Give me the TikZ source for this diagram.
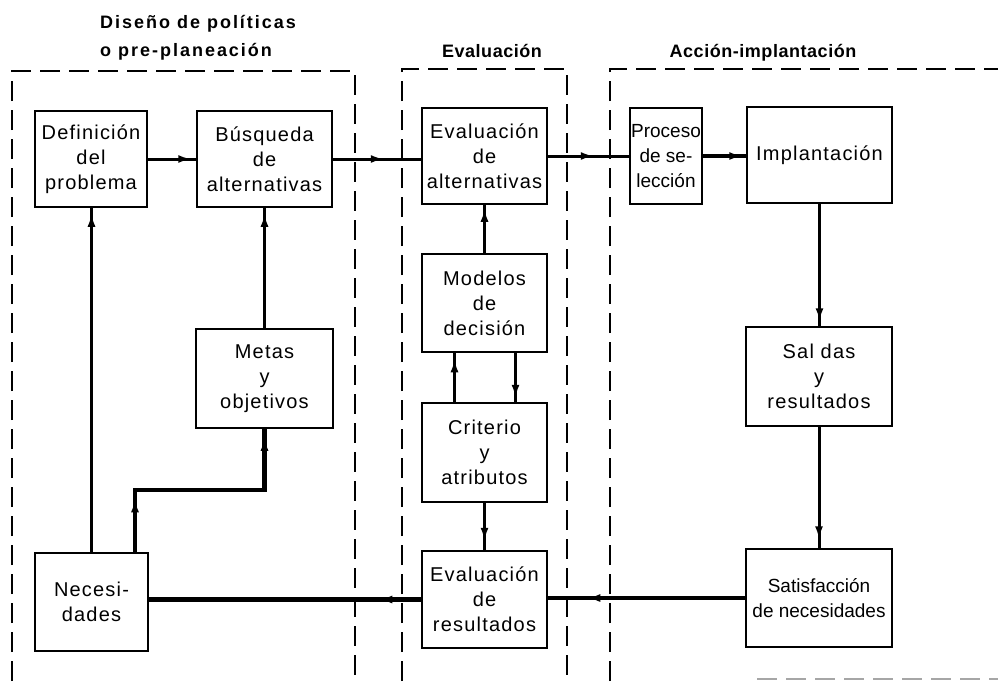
\documentclass[tikz,border=0pt]{standalone}
\usepackage{fontspec}
\setmainfont{Liberation Sans}
\newfontfamily\boxfont{Liberation Sans}[LetterSpace=6]
\newfontfamily\headwide{Liberation Sans}[LetterSpace=11]
\newfontfamily\headfont{Liberation Sans}[LetterSpace=3]
\usetikzlibrary{arrows.meta,decorations.markings}

\tikzset{
  blk/.style={draw, fill=white, line width=1.5pt, inner sep=0pt, align=center,
    font=\boxfont\fontsize{20}{25}\selectfont},
  tightblk/.style={blk, font=\fontsize{19}{25}\selectfont},
  zone/.style={line width=1.5pt, dash pattern=on 20pt off 9pt},
  faintzone/.style={zone, draw=black!35},
  link/.style={line width=3pt},
  heavy/.style={line width=4.2pt},
  tipat/.style={postaction={decorate}, decoration={markings,
    mark=at position #1 with {\arrow{Latex[length=13pt,width=8pt]}}}},
  twotips/.style 2 args={postaction={decorate}, decoration={markings,
    mark=at position #1 with {\arrow{Latex[length=13pt,width=8pt]}},
    mark=at position #2 with {\arrow{Latex[length=13pt,width=8pt]}}}},
  titlewide/.style={font=\headwide\bfseries\fontsize{18}{27}\selectfont, inner sep=0pt},
  titlenarrow/.style={font=\headfont\bfseries\fontsize{18}{27}\selectfont, inner sep=0pt}
}

\begin{document}
\begin{tikzpicture}[x=1pt,y=-1pt]
\useasboundingbox (0,0) rectangle (998,681);

% phase regions
\draw[zone] (12,681) -- (12,71) -- (355,71) -- (355,681);
\draw[zone] (402,681) -- (402,69) -- (567,69) -- (567,681);
\draw[zone] (610,681) -- (610,69) -- (998,69);
\draw[faintzone] (757,679) -- (998,679);

% phase titles
\node[titlewide, anchor=base west] (t1a) at (100,28) {Diseño de políticas};
\node[titlewide, anchor=base west] (t1b) at (100,56) {o pre-planeación};
\node[titlenarrow, anchor=base] (t2) at (492,57) {Evaluación};
\node[titlenarrow, anchor=base] (t3) at (763,57) {Acción-implantación};

% blocks
\node[blk, minimum width=112pt, minimum height=96pt] (def) at (91,159) {Definición\\del\\problema};
\node[blk, minimum width=135pt, minimum height=96pt] (bus) at (264.5,159) {Búsqueda\\de\\alternativas};
\node[blk, minimum width=137pt, minimum height=99pt] (metas) at (264.5,378.5) {Metas\\y\\objetivos};
\node[blk, minimum width=113pt, minimum height=98pt] (nec) at (91.5,602) {Necesi-\\dades};

\node[blk, minimum width=125pt, minimum height=96pt] (evalt) at (484.5,156) {Evaluación\\de\\alternativas};
\node[blk, minimum width=125pt, minimum height=98pt] (model) at (484.5,303) {Modelos\\de\\decisión};
\node[blk, minimum width=125pt, minimum height=99pt] (crit) at (484.5,452.5) {Criterio\\y\\atributos};
\node[blk, minimum width=125pt, minimum height=97pt] (evres) at (484.5,599.5) {Evaluación\\de\\resultados};

\node[tightblk, minimum width=72pt, minimum height=96pt] (proc) at (666,156) {Proceso\\de se-\\lección};
\node[blk, minimum width=145pt, minimum height=96pt] (impl) at (819.5,155) {Implantación};
\node[blk, minimum width=146pt, minimum height=99pt] (sal) at (819,376.5) {Sal das\\y\\resultados};
\node[tightblk, minimum width=146pt, minimum height=98pt] (sat) at (819,598) {Satisfacción\\de necesidades};

\coordinate (bend) at (200,490);

% flows
\draw[link, tipat=-5pt] (def.east) -- (bus.west);
\draw[link, tipat=51pt] (bus.east) -- (bus.east -| evalt.west);
\draw[link, tipat=46pt] (evalt.east) -- (proc.west);
\draw[heavy, tipat=-4pt] (proc.east) -- (proc.east -| impl.west);
\draw[link, tipat=-5pt] (impl.south) -- (impl.south |- sal.north);
\draw[link, tipat=-9pt] (sal.south) -- (sal.south |- sat.north);
\draw[heavy, tipat=158pt] (sat.west) -- (sat.west -| evres.east);
\draw[heavy, tipat=42pt] (evres.west) -- (evres.west -| nec.east);
\draw[link, tipat=38pt] (crit.south) -- (evres.north);
\draw[link, tipat=45pt] ([xshift=31pt]model.south) -- ([xshift=31pt]crit.north);
\draw[link, tipat=43pt] ([xshift=-30pt]crit.north) -- ([xshift=-30pt]model.south);
\draw[link, tipat=-4pt] (model.north) -- (evalt.south);
\draw[link, tipat=-6pt] (nec.north) -- (nec.north |- def.south);
\draw[link, tipat=-6pt] (metas.north) -- (bus.south);
\draw[heavy, twotips={53pt}{-9pt}] ([xshift=43.5pt]nec.north) |- (bend) -| (metas.south);
\end{tikzpicture}
\end{document}
